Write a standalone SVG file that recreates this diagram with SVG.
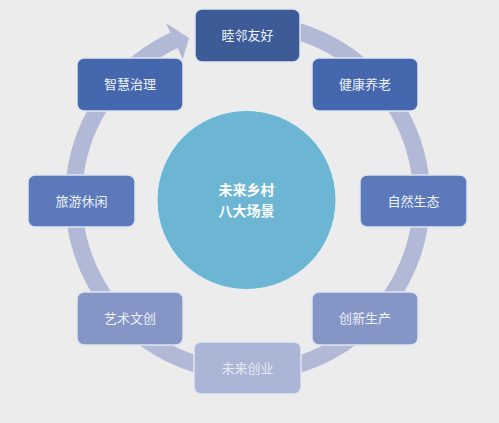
<svg xmlns="http://www.w3.org/2000/svg" width="499" height="423" viewBox="0 0 499 423">
<style>
.bx{stroke:#dfe5f0;stroke-width:1.5}
.t{font-family:"Noto Sans CJK SC","Liberation Sans",sans-serif;font-size:13px;fill:#eef1f8;text-anchor:middle}
.c{font-family:"Noto Sans CJK SC","Liberation Sans",sans-serif;font-size:14px;font-weight:bold;fill:#ffffff;text-anchor:middle}
</style>
<rect width="499" height="423" fill="#ececec"/>
<g id="connectors">
<path d="M277.7,26.6 A174,174 0 1 1 174,40.3" fill="none" stroke="#b2b9d6" stroke-width="17"/>
<polygon points="165.9,23.1 189,38 182.8,59.3" fill="#b2b9d6"/>
</g>
<g id="center">
<circle cx="246.5" cy="200" r="89.5" fill="#6cb5d3" stroke="#e6f2f8" stroke-width="1"/>
<text class="c" x="246.5" y="195">未来乡村</text>
<text class="c" x="246.5" y="216">八大场景</text>
</g>
<g id="n1"><rect class="bx" x="195" y="9" width="105" height="53" rx="7" fill="#3c5b97"/><text class="t" x="247.5" y="40">睦邻友好</text></g>
<g id="n2"><rect class="bx" x="312" y="58" width="106" height="53" rx="7" fill="#4467ad"/><text class="t" x="365" y="89">健康养老</text></g>
<g id="n3"><rect class="bx" x="360" y="175" width="107" height="52" rx="7" fill="#5b79bb"/><text class="t" x="413.5" y="206">自然生态</text></g>
<g id="n4"><rect class="bx" x="312" y="292" width="106" height="53" rx="7" fill="#8595c5"/><text class="t" x="365" y="323">创新生产</text></g>
<g id="n5"><rect class="bx" x="194" y="342" width="107" height="52" rx="7" fill="#abb5d6"/><text class="t" x="247.5" y="373" style="fill:#e6e9f2">未来创业</text></g>
<g id="n6"><rect class="bx" x="77" y="292" width="106" height="53" rx="7" fill="#8595c5"/><text class="t" x="130" y="323">艺术文创</text></g>
<g id="n7"><rect class="bx" x="28" y="175" width="107" height="52" rx="7" fill="#5b79bb"/><text class="t" x="81.5" y="206">旅游休闲</text></g>
<g id="n8"><rect class="bx" x="77" y="58" width="106" height="53" rx="7" fill="#4467ad"/><text class="t" x="130" y="89">智慧治理</text></g>
</svg>
